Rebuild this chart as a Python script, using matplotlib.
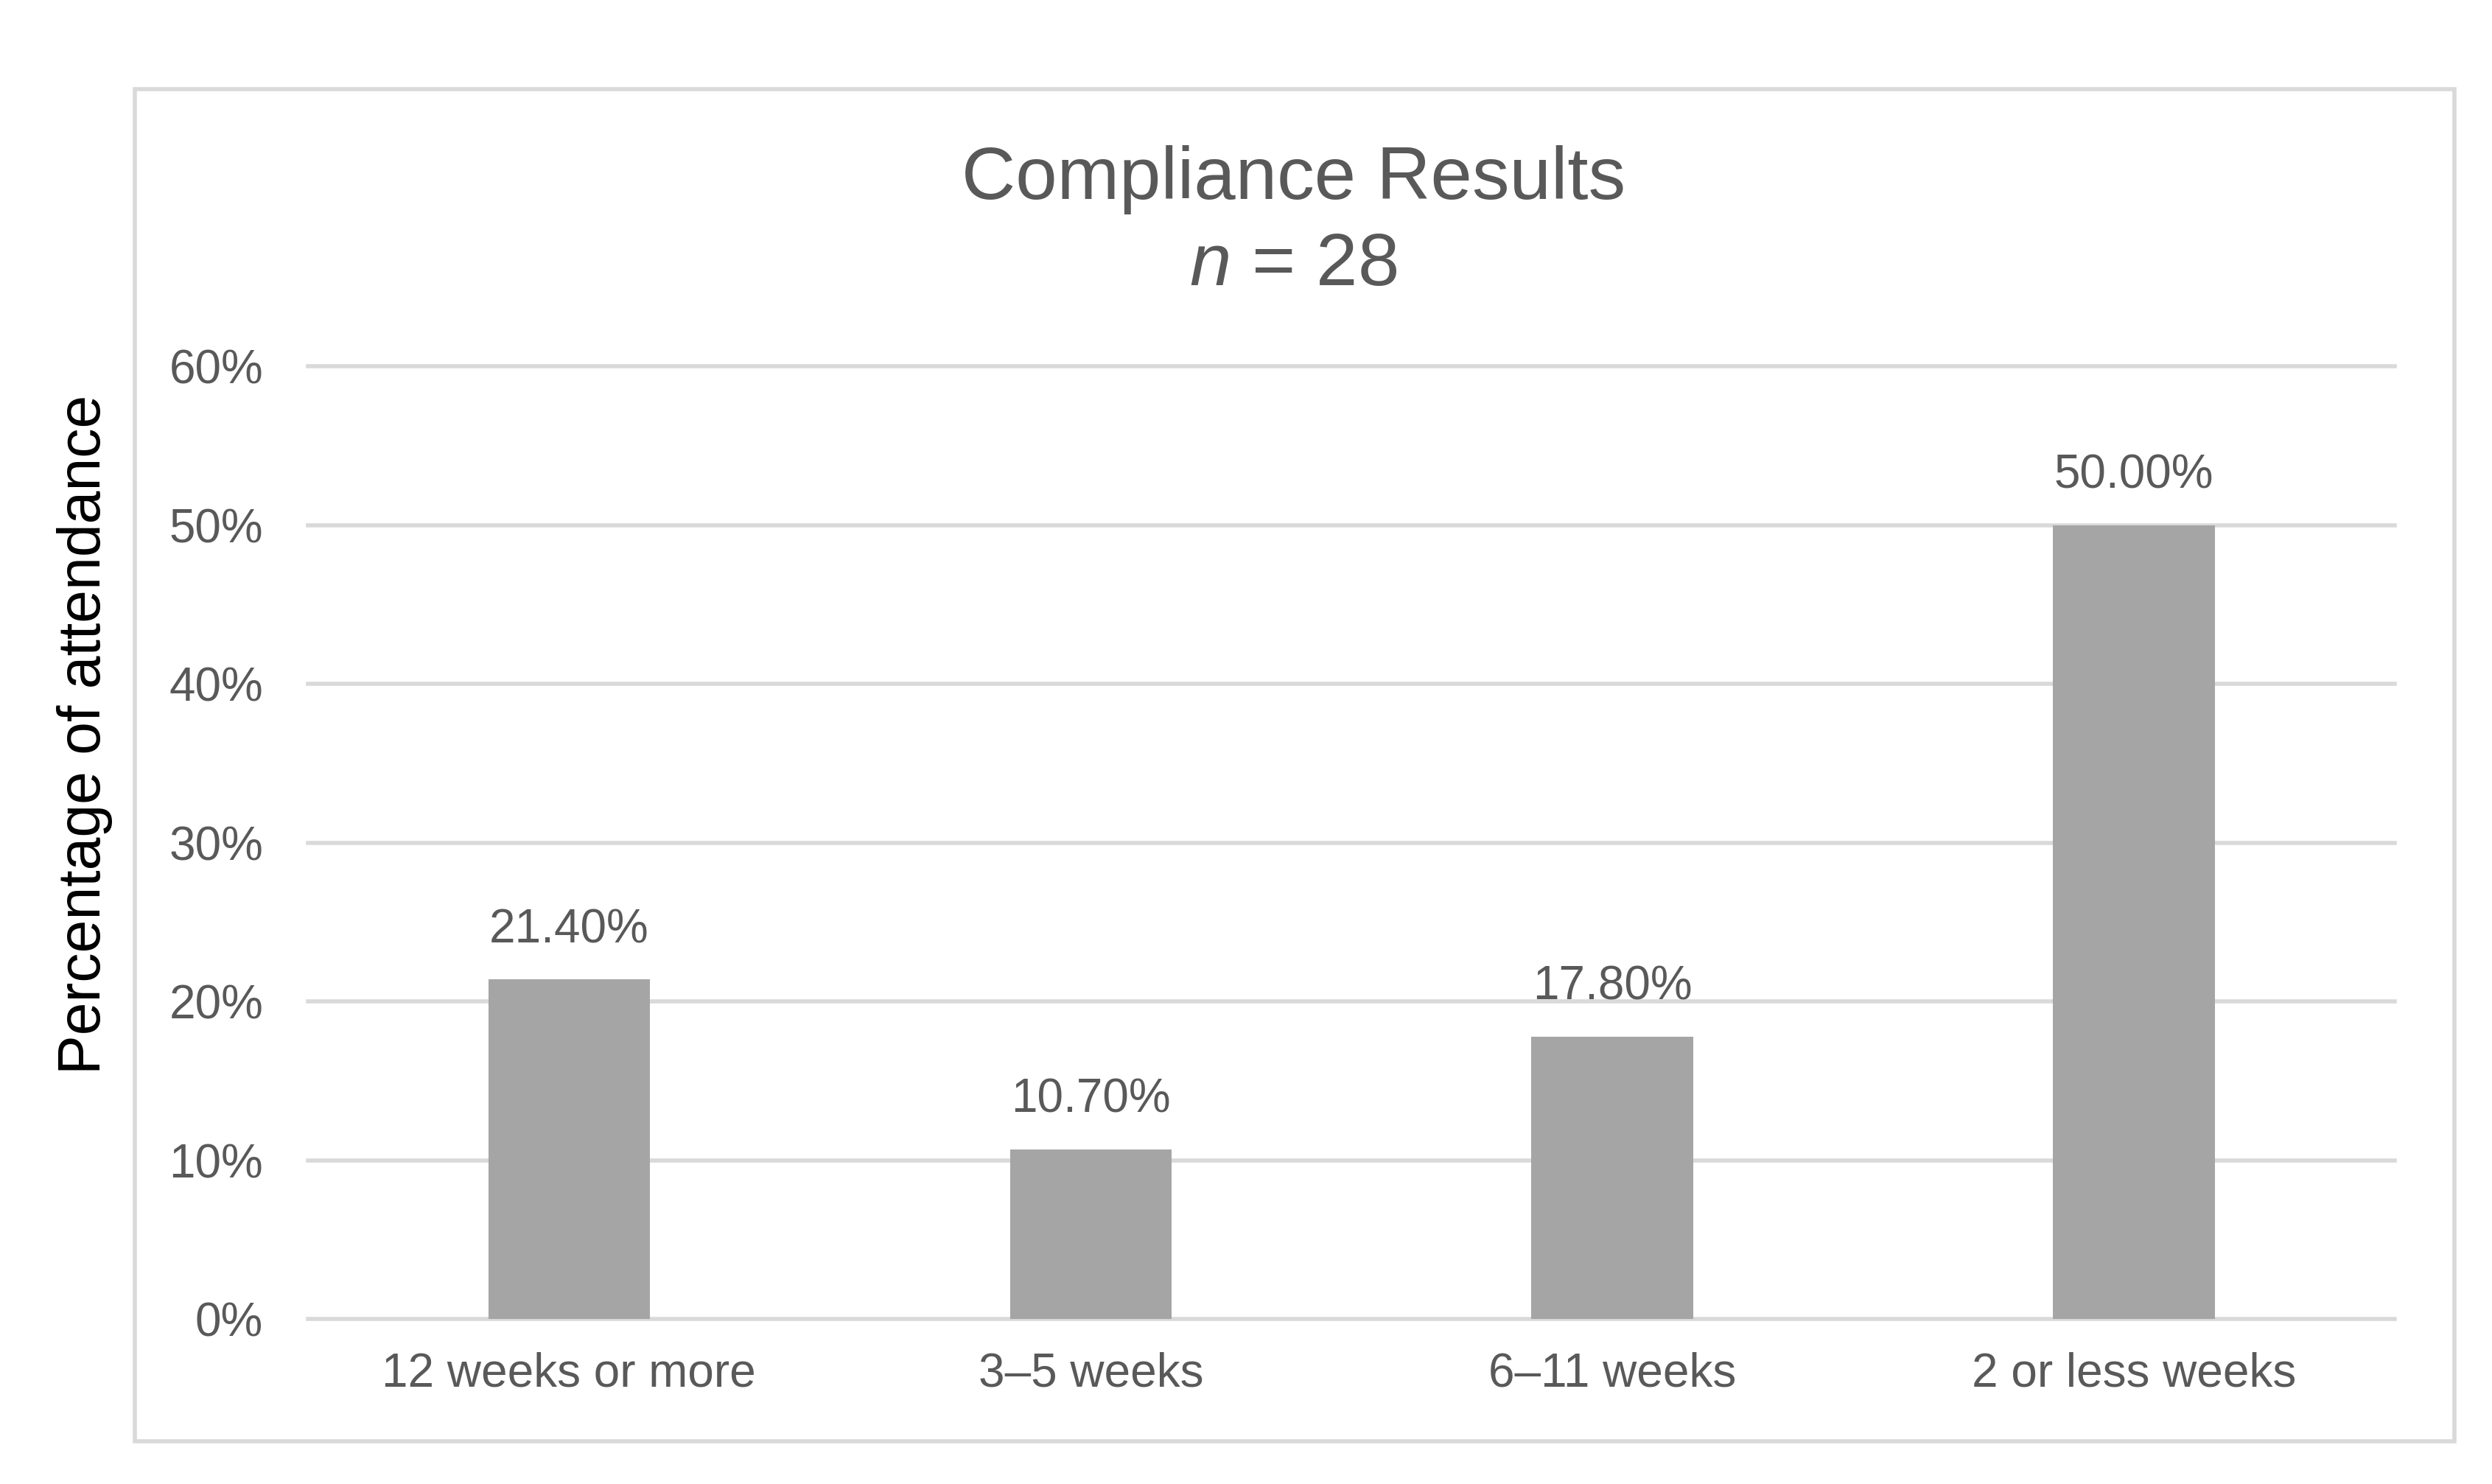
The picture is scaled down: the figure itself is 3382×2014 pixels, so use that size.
import matplotlib
matplotlib.use("Agg")
import matplotlib.pyplot as plt
from matplotlib.patches import Rectangle
from matplotlib.ticker import PercentFormatter

plt.rcParams['font.family'] = ['Liberation Sans', 'DejaVu Sans']
plt.rcParams['mathtext.fontset'] = 'custom'
plt.rcParams['mathtext.rm'] = 'Liberation Sans'
plt.rcParams['mathtext.it'] = 'Liberation Sans:italic'

categories = ["12 weeks or more", "3\u20135 weeks", "6\u201311 weeks", "2 or less weeks"]
values = [0.214, 0.107, 0.178, 0.500]
value_labels = ["21.40%", "10.70%", "17.80%", "50.00%"]
y_ticks = [0.0, 0.1, 0.2, 0.3, 0.4, 0.5, 0.6]

text_grey = "#595959"
line_grey = "#D9D9D9"
bar_grey = "#A5A5A5"

fig = plt.figure(figsize=(16.91, 10.07), dpi=200)
ax = fig.add_axes([0.1237, 0.111, 0.8373, 0.642])

x = range(len(categories))
ax.bar(x, values, width=0.31, color=bar_grey, zorder=2)

for xi, v, lab in zip(x, values, value_labels):
    ax.annotate(lab, (xi, v), xytext=(0, 18), textcoords="offset points",
                ha="center", va="baseline", fontsize=23, color=text_grey)

ax.set_xlim(-0.5, len(categories) - 0.5)
ax.set_ylim(0, 0.6)
ax.set_yticks(y_ticks)
ax.yaxis.set_major_formatter(PercentFormatter(1.0, decimals=0))
ax.set_xticks(list(x))
ax.set_xticklabels(categories)
ax.tick_params(axis="both", length=0, labelsize=23, labelcolor=text_grey)
ax.tick_params(axis="x", pad=16)
ax.tick_params(axis="y", pad=22)

ax.grid(axis="y", color=line_grey, linewidth=2, zorder=0)
ax.set_axisbelow(True)
for gl in ax.yaxis.get_gridlines():
    gl.set_clip_on(False)
for s in ax.spines.values():
    s.set_visible(False)

fig.text(0.519, 0.879, "Compliance Results", ha="center", va="center",
         fontsize=36.5, color=text_grey)
fig.text(0.519, 0.821, r"$n$ = 28", ha="center", va="center",
         fontsize=36.5, color=text_grey)
fig.text(0.034, 0.505, "Percentage of attendance", rotation=90,
         ha="center", va="center", fontsize=29, color="black")

fig.patches.append(Rectangle((0.054, 0.029), 0.931, 0.911, transform=fig.transFigure,
                             fill=False, edgecolor=line_grey, linewidth=2))

fig.savefig("out.png", dpi=200, facecolor="white")
